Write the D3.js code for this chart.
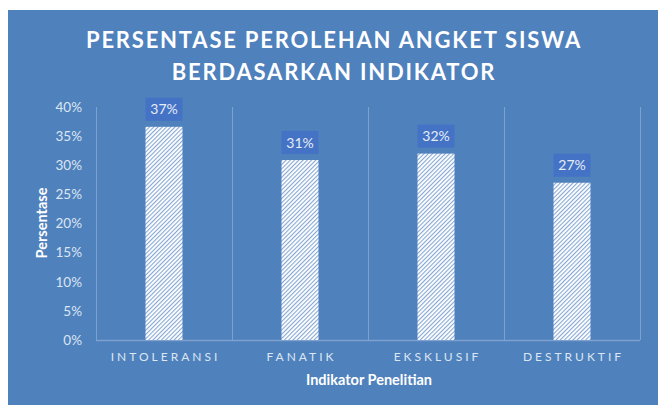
<!DOCTYPE html>
<html>
<head>
<meta charset="utf-8">
<script src="https://cdnjs.cloudflare.com/ajax/libs/d3/7.8.5/d3.min.js"></script>
<style>
  body { margin: 0; background: #fff; }
  svg text { font-family: Lato, "Open Sans", sans-serif; }
</style>
</head>
<body>
<div id="chart-area"></div>
<script>
// data
let categories = ["INTOLERANSI", "FANATIK", "EKSKLUSIF", "DESTRUKTIF"];
let values = [36.6, 30.9, 32.0, 27.0];
let valueLabels = ["37%", "31%", "32%", "27%"];
let yTicks = [0, 5, 10, 15, 20, 25, 30, 35, 40];
let titleLines = ["PERSENTASE PEROLEHAN ANGKET SISWA", "BERDASARKAN INDIKATOR"];

let W = 662, H = 405;
let plot = {left: 96, right: 640, top: 107, bottom: 340};

let svg = d3.select("#chart-area")
    .append("svg")
    .attr("width", W)
    .attr("height", H);

// hatch pattern (wide upward diagonal, fine)
let defs = svg.append("defs");
let pat = defs.append("pattern")
    .attr("id", "hatch")
    .attr("patternUnits", "userSpaceOnUse")
    .attr("width", 3)
    .attr("height", 3)
    .attr("patternTransform", "rotate(45)");
pat.append("rect").attr("width", 3).attr("height", 3).attr("fill", "#ffffff");
pat.append("rect").attr("width", 1.1).attr("height", 3).attr("fill", "#86a7d4");

// panel
svg.append("rect")
    .attr("x", 8).attr("y", 10)
    .attr("width", 650).attr("height", 395)
    .attr("fill", "#4f81bd");

// title
titleLines.forEach((t, i) => {
    svg.append("text")
        .attr("x", 334)
        .attr("y", 48 + i * 32)
        .attr("text-anchor", "middle")
        .attr("font-size", "22px")
        .attr("font-weight", "bold")
        .attr("letter-spacing", "1.8px")
        .attr("fill", "#ffffff")
        .text(t);
});

// scales
let x = d3.scaleBand()
    .domain(categories)
    .range([plot.left, plot.right])
    .padding(0);
let y = d3.scaleLinear()
    .domain([0, 40])
    .range([plot.bottom, plot.top]);

let barW = x.bandwidth() * 0.272;

// vertical grid lines at category boundaries
let bounds = categories.map(c => x(c)).concat([plot.right]);
svg.selectAll(".vgrid")
    .data(bounds)
    .enter().append("line")
    .attr("class", "vgrid")
    .attr("x1", d => d + 0.5).attr("x2", d => d + 0.5)
    .attr("y1", plot.top).attr("y2", plot.bottom)
    .attr("stroke", "#7fa1cf")
    .attr("stroke-width", 1);

// baseline
svg.append("line")
    .attr("x1", plot.left).attr("x2", plot.right)
    .attr("y1", y(0) + 0.5).attr("y2", y(0) + 0.5)
    .attr("stroke", "#7fa1cf")
    .attr("stroke-width", 1.5);

// y axis labels
let yAxis = d3.axisLeft(y)
    .tickValues(yTicks)
    .tickFormat(d => d + "%")
    .tickSize(0)
    .tickPadding(0);
let yg = svg.append("g")
    .attr("transform", "translate(82,0)")
    .call(yAxis);
yg.select(".domain").remove();
yg.selectAll("text")
    .attr("font-size", "13.5px")
    .attr("fill", "#dce6f2")
    .style("font-family", "Lato, 'Open Sans', sans-serif");

// x axis labels
let xAxis = d3.axisBottom(x).tickSize(0).tickPadding(0);
let xg = svg.append("g")
    .attr("transform", "translate(0,352)")
    .call(xAxis);
xg.select(".domain").remove();
xg.selectAll("text")
    .attr("font-size", "12px")
    .attr("fill", "#dce6f2")
    .attr("letter-spacing", "3px")
    .attr("dx", "1.5px")
    .style("font-family", "Lato, 'Open Sans', sans-serif");

// bars
let bars = categories.map((c, i) => ({cat: c, value: values[i], label: valueLabels[i]}));
svg.selectAll(".bar")
    .data(bars)
    .enter().append("rect")
    .attr("class", "bar")
    .attr("x", d => x(d.cat) + (x.bandwidth() - barW) / 2)
    .attr("y", d => y(d.value))
    .attr("width", barW)
    .attr("height", d => y(0) - y(d.value))
    .attr("fill", "url(#hatch)");

// data label boxes
svg.selectAll(".lblbox")
    .data(bars)
    .enter().append("rect")
    .attr("class", "lblbox")
    .attr("x", d => x(d.cat) + (x.bandwidth() - barW) / 2)
    .attr("y", d => y(d.value) - 29)
    .attr("width", barW)
    .attr("height", 23)
    .attr("fill", "#4472c4");
svg.selectAll(".lbl")
    .data(bars)
    .enter().append("text")
    .attr("class", "lbl")
    .attr("x", d => x(d.cat) + x.bandwidth() / 2)
    .attr("y", d => y(d.value) - 12.5)
    .attr("text-anchor", "middle")
    .attr("font-size", "14px")
    .attr("fill", "#e4ecf7")
    .text(d => d.label);

// axis titles
svg.append("text")
    .attr("transform", "translate(47,223) rotate(-90)")
    .attr("text-anchor", "middle")
    .attr("font-size", "14.5px")
    .attr("font-weight", "bold")
    .attr("fill", "#ffffff")
    .text("Persentase");
svg.append("text")
    .attr("x", 369)
    .attr("y", 385)
    .attr("text-anchor", "middle")
    .attr("font-size", "14.5px")
    .attr("font-weight", "bold")
    .attr("fill", "#ffffff")
    .text("Indikator Penelitian");
</script>
</body>
</html>
